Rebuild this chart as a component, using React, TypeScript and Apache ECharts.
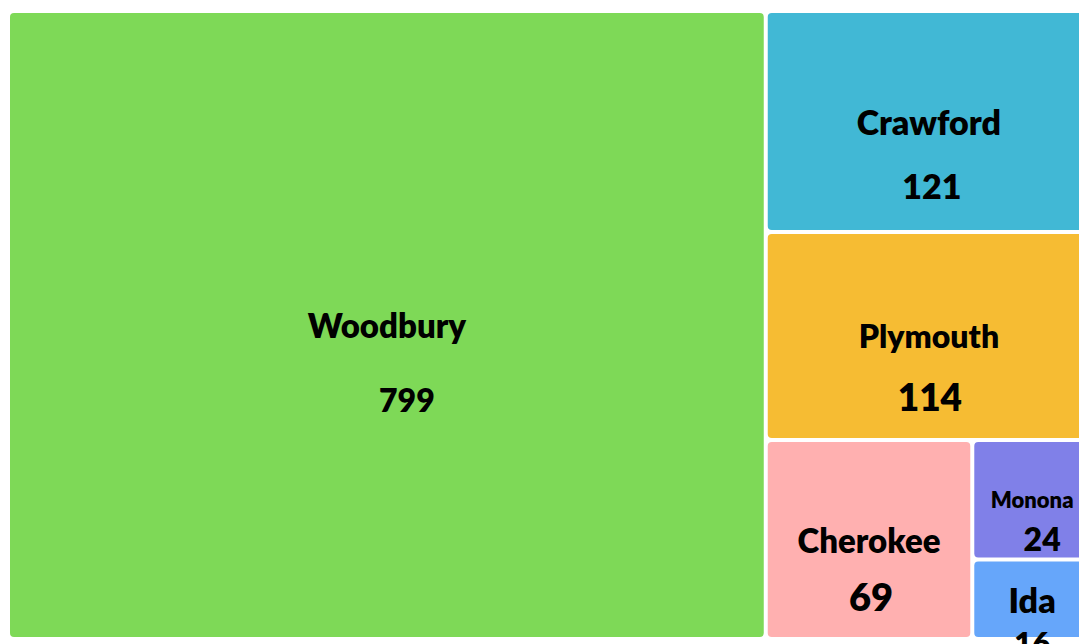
import React, { useEffect, useRef } from "react";
import * as echarts from "echarts";

const counties = ["Woodbury", "Crawford", "Plymouth", "Cherokee", "Monona", "Ida"];
const counts = [799, 121, 114, 69, 24, 16];
const colors = ["#7ed957", "#41b8d5", "#f6bc33", "#ffb0b0", "#8080e8", "#66a6fa"];
const nameSizes = [33, 34, 32, 33, 22, 34];
const valueSizes = [32, 34, 37, 38, 32, 31];
const lineGaps = [74, 64, 61, 56, 39, 43];
const valueShift = [20, 3, 1, 2, 10, 0];
const extraBottom = [0, 0, 0, 0, 0, 14];

const FONT = "Lato";

export default function App() {
  const ref = useRef<HTMLDivElement>(null);
  useEffect(() => {
    if (!ref.current) return;
    const chart = echarts.init(ref.current, undefined, { renderer: "svg" });
    const data = counties.map((name, i) => {
      const L = lineGaps[i];
      return {
        name,
        value: counts[i],
        itemStyle: { color: colors[i] },
        label: {
          padding: [0, 4, -extraBottom[i], 4],
          formatter: "{n|{b}}\n{v|{c}}",
          rich: {
            n: {
              fontSize: nameSizes[i],
              fontWeight: 800,
              fontFamily: FONT,
              color: "#000",
              lineHeight: L,
              align: "center",
            },
            v: {
              fontSize: valueSizes[i],
              fontWeight: 800,
              fontFamily: FONT,
              color: "#000",
              lineHeight: L,
              align: "center",
              padding: [0, 0, 0, valueShift[i] * 2],
            },
          },
        },
      };
    });
    const findIndex = (text: string) => {
      let best = -1;
      counties.forEach((c, i) => {
        if (text && text.indexOf(c) >= 0) best = i;
      });
      return best;
    };
    chart.setOption({
      animation: false,
      series: [
        {
          type: "treemap",
          left: 10,
          top: 13,
          width: 1080,
          height: 624,
          squareRatio: 1,
          roam: false,
          nodeClick: false,
          breadcrumb: { show: false },
          label: {
            show: true,
            position: "inside",
            overflow: "none",
            align: "center",
            verticalAlign: "middle",
          },
          labelLayout: (params: any) => {
            const i = findIndex(params.text);
            const L = i >= 0 ? lineGaps[i] : 0;
            return { dy: params.rect.height / 2 - L / 2 };
          },
          itemStyle: { gapWidth: 4, borderWidth: 0, borderRadius: 4 },
          levels: [{ itemStyle: { gapWidth: 4, borderWidth: 0, borderRadius: 4 } }],
          data,
        },
      ],
    });
    return () => chart.dispose();
  }, []);
  return (
    <>
      <style>{`body{margin:0;overflow:hidden;}`}</style>
      <div ref={ref} style={{ width: 1079, height: 644 }} />
    </>
  );
}
